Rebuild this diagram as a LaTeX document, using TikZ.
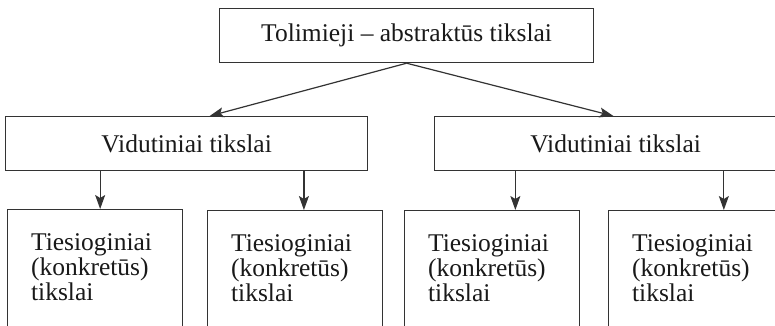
\documentclass[tikz,border=0pt]{standalone}
\usepackage{fontspec}
\setmainfont{Liberation Serif}
\usetikzlibrary{arrows.meta,calc}
\begin{document}
\begin{tikzpicture}[x=1pt,y=-1pt,
  every node/.style={font=\fontsize{25.5}{25}\selectfont, text=black!90},
  line/.style={draw=black!80, line width=1.2pt},
  box/.style={line, rectangle, inner sep=0pt, anchor=north west},
  bot/.style={line, rectangle, anchor=north west, align=left, text width=128pt,
     inner xsep=23.5pt, inner ysep=0pt, text height=41pt, text depth=140pt},
  arr/.style={draw=black!80, line width=1.2pt, -{Stealth[length=14pt,width=10pt,inset=3pt]}}]
\clip (0,0) rectangle (775,325);
\fill[white] (0,0) rectangle (775,325);
\node[box, minimum width=374pt, minimum height=54pt] (top) at (219,8) {Tolimieji – abstraktūs tikslai};
\node[box, minimum width=362pt, minimum height=54pt] (m1) at (5,116) {Vidutiniai tikslai};
\node[box, minimum width=362pt, minimum height=54pt] (m2) at (434,116) {Vidutiniai tikslai};
\node[bot] (b1) at (7,209) {Tiesioginiai\\(konkretūs)\\tikslai};
\node[bot] (b2) at (207,210) {Tiesioginiai\\(konkretūs)\\tikslai};
\node[bot] (b3) at (404,210) {Tiesioginiai\\(konkretūs)\\tikslai};
\node[bot] (b4) at (608,210) {Tiesioginiai\\(konkretūs)\\tikslai};
\coordinate (t1) at ($(m1.north west)!0.5635!(m1.north east)$);
\draw[arr] (top.south) -- (t1);
\draw[arr] (top.south) -- ($(m2.north west)!0.494!(m2.north east)$);
\coordinate (a1) at ($(m1.south west)!0.262!(m1.south east)$);
\coordinate (a2) at ($(m1.south west)!0.823!(m1.south east)$);
\coordinate (a3) at ($(m2.south west)!0.224!(m2.south east)$);
\coordinate (a4) at ($(m2.south west)!0.798!(m2.south east)$);
\draw[arr] (a1) -- (a1 |- b1.north);
\draw[arr] (a2) -- (a2 |- b2.north);
\draw[arr] (a3) -- (a3 |- b3.north);
\draw[arr] (a4) -- (a4 |- b4.north);
\end{tikzpicture}
\end{document}
